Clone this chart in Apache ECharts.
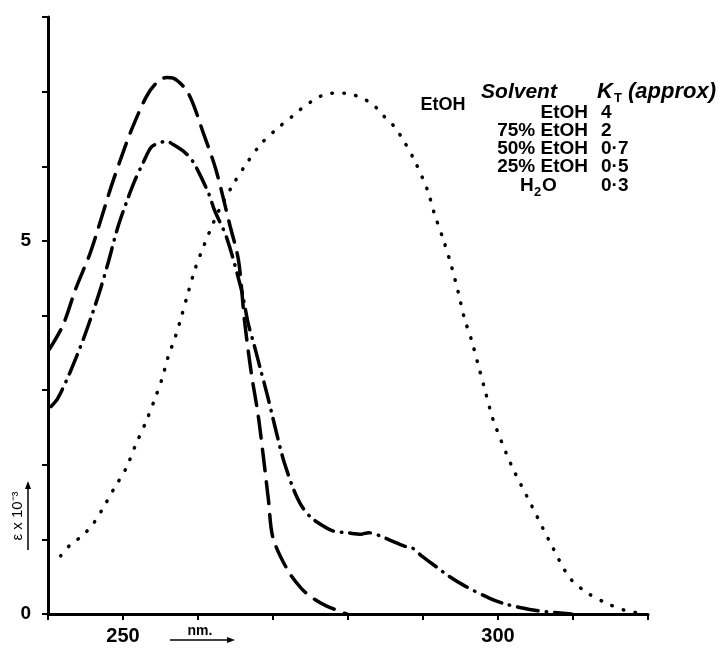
<!DOCTYPE html>
<html>
<head>
<meta charset="utf-8">
<script src="https://cdn.jsdelivr.net/npm/echarts@6/dist/echarts.min.js"></script>
<style>
html,body{margin:0;padding:0;background:#fff;}
#chart{width:727px;height:648px;}
</style>
</head>
<body>
<div id="chart"></div>
<script>
// ---- data (wavelength nm, epsilon x 10^-3) ----
const wlDashed = [240.2, 242.0, 243.7, 245.6, 247.1, 248.4, 249.7, 251.1, 253.1, 254.4, 255.8, 256.7, 258.7, 260.8, 262.4, 264.2, 265.4, 266.2, 267.1, 268.0, 268.7, 269.4, 270.0, 272.0, 273.8, 275.5, 277.1, 279.8];
const epsDashed = [3.55, 3.87, 4.36, 4.83, 5.30, 5.72, 6.10, 6.48, 6.93, 7.11, 7.19, 7.18, 6.98, 6.42, 5.95, 5.23, 4.74, 3.93, 3.23, 2.68, 2.12, 1.52, 1.02, 0.58, 0.34, 0.20, 0.11, 0.0];

const wlDashDot = [240.4, 241.3, 242.9, 244.7, 246.0, 247.1, 248.0, 249.3, 250.4, 251.5, 252.7, 253.8, 255.1, 255.8, 256.4, 258.2, 259.4, 261.4, 262.2, 263.8, 265.8, 266.7, 267.5, 268.3, 269.2, 270.0, 271.0, 271.5, 272.7, 273.8, 275.1, 276.7, 278.1, 279.8, 281.8, 282.7, 284.2, 285.8, 287.5, 288.5, 289.8, 291.8, 293.4, 295.5, 298.9, 301.1, 304.9, 306.5, 309.8];
const epsDashDot = [2.78, 2.89, 3.23, 3.68, 4.05, 4.39, 4.70, 5.18, 5.50, 5.79, 6.05, 6.26, 6.32, 6.34, 6.31, 6.19, 6.05, 5.64, 5.41, 5.05, 4.34, 3.89, 3.60, 3.29, 2.95, 2.62, 2.21, 2.03, 1.68, 1.45, 1.29, 1.18, 1.11, 1.09, 1.07, 1.09, 1.05, 0.98, 0.91, 0.89, 0.78, 0.63, 0.51, 0.38, 0.21, 0.13, 0.05, 0.03, 0.0];

const wlDotted = [241.7, 243.0, 244.6, 246.1, 247.4, 248.8, 250.4, 251.7, 253.0, 254.2, 255.2, 256.0, 257.0, 257.8, 258.7, 259.6, 260.8, 262.8, 264.7, 266.5, 268.4, 270.5, 272.7, 274.0, 275.5, 277.1, 278.7, 280.3, 281.9, 283.3, 284.7, 286.1, 287.5, 289.0, 290.6, 291.5, 292.7, 293.8, 294.7, 295.5, 296.5, 297.3, 298.1, 299.0, 299.5, 301.8, 304.5, 307.2, 309.6, 312.1, 314.8, 316.9, 318.9];
const epsDotted = [0.78, 0.93, 1.05, 1.22, 1.43, 1.68, 1.95, 2.27, 2.56, 2.87, 3.15, 3.44, 3.72, 3.99, 4.31, 4.62, 4.94, 5.41, 5.76, 6.04, 6.30, 6.50, 6.68, 6.79, 6.89, 6.97, 6.98, 6.97, 6.91, 6.83, 6.68, 6.54, 6.33, 6.05, 5.68, 5.37, 5.02, 4.66, 4.31, 3.97, 3.66, 3.36, 3.06, 2.72, 2.56, 1.99, 1.45, 0.91, 0.48, 0.27, 0.13, 0.05, 0.01];

const xTickLabels = [250, 300];
const yTickLabels = [0, 5];

const solvents = ['EtOH', '75% EtOH', '50% EtOH', '25% EtOH'];
const ktValues = ['4', '2', '0·7', '0·5', '0·3'];

// ---- helpers ----
const pairs = (xs, ys) => xs.map((x, i) => [x, ys[i]]);
const F = 'Liberation Sans, Arial, sans-serif';

const chart = echarts.init(document.getElementById('chart'), null, {renderer: 'canvas'});

const rowY = [113, 131, 149, 167, 186];
const graphics = [];
const txt = (x, y, text, font, align) => ({type:'text', x:x, y:y, style:{text:text, font:font, fill:'#000', align:align || 'left', verticalAlign:'middle'}});
graphics.push(txt(519, 92, 'Solvent', 'italic bold 21px ' + F, 'center'));
graphics.push(txt(597, 92, 'K', 'italic bold 22px ' + F));
graphics.push(txt(614, 98, 'T', 'bold 13px ' + F));
graphics.push(txt(628, 92, '(approx)', 'italic bold 22px ' + F));
solvents.forEach((s, i) => graphics.push(txt(588, rowY[i], s, 'bold 19px ' + F, 'right')));
graphics.push(txt(520, rowY[4], 'H', 'bold 19px ' + F));
graphics.push(txt(534, rowY[4] + 6, '2', 'bold 13px ' + F));
graphics.push(txt(542, rowY[4], 'O', 'bold 19px ' + F));
ktValues.forEach((k, i) => graphics.push(txt(601, rowY[i], k, 'bold 19px ' + F)));
graphics.push(txt(443, 105, 'EtOH', 'bold 18px ' + F, 'center'));
// y axis name with arrow
graphics.push({type:'text', x:18, y:516, rotation:Math.PI/2, style:{text:'ε x 10⁻³', font:'15px ' + F, fill:'#000', align:'center', verticalAlign:'middle'}});
graphics.push({type:'line', shape:{x1:28, y1:550, x2:28, y2:486}, style:{stroke:'#000', lineWidth:1.5}});
graphics.push({type:'polygon', shape:{points:[[25,489],[31,489],[28,481]]}, style:{fill:'#000'}});
// x axis name with arrow
graphics.push(txt(200, 631, 'nm.', 'bold 14px ' + F, 'center'));
graphics.push({type:'line', shape:{x1:170, y1:640, x2:229, y2:640}, style:{stroke:'#000', lineWidth:1.5}});
graphics.push({type:'polygon', shape:{points:[[227,637],[227,643],[235,640]]}, style:{fill:'#000'}});

const axisCommon = {
  axisLine: {show:true, onZero:false, lineStyle:{color:'#000', width:3}},
  axisTick: {show:true, inside:false, length:6, lineStyle:{color:'#000', width:2}},
  splitLine: {show:false},
};

chart.setOption({
  animation: false,
  backgroundColor: '#fff',
  grid: {left:48, right:79, top:17, bottom:34},
  xAxis: Object.assign({
    type:'value', min:240, max:320, interval:10,
    axisLabel: {margin:12, color:'#000', fontFamily:F, fontWeight:'bold', fontSize:20,
      formatter: v => xTickLabels.includes(v) ? String(v) : ''}
  }, axisCommon),
  yAxis: Object.assign({
    type:'value', min:0, max:8, interval:1,
    axisLabel: {margin:17, color:'#000', fontFamily:F, fontWeight:'bold', fontSize:19,
      formatter: v => yTickLabels.includes(v) ? String(v) : ''}
  }, axisCommon),
  graphic: graphics,
  series: [
    {name:'dashed', type:'line', data:pairs(wlDashed, epsDashed), showSymbol:false, smooth:0.3,
     lineStyle:{color:'#000', width:3.5, type:[22, 11], cap:'round'}},
    {name:'dash-dot', type:'line', data:pairs(wlDashDot, epsDashDot), showSymbol:false, smooth:0.3,
     lineStyle:{color:'#000', width:3.5, type:[21, 8, 0.5, 8], cap:'round'}},
    {name:'dotted', type:'line', data:pairs(wlDotted, epsDotted), showSymbol:false, smooth:0.3,
     lineStyle:{color:'#000', width:3.5, type:[0.5, 11.5], cap:'round'}}
  ]
});
</script>
</body>
</html>
